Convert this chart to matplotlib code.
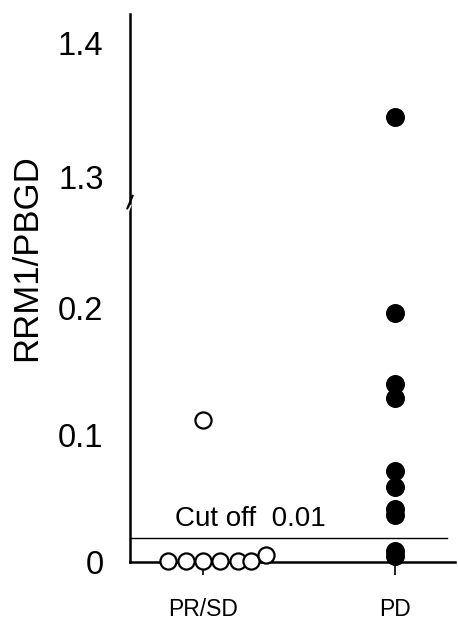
import matplotlib
matplotlib.use("Agg")
import matplotlib.pyplot as plt
import numpy as np

plt.rcParams['font.family'] = ['Liberation Sans', 'DejaVu Sans']

# data
groups = ['PR/SD', 'PD']
prsd_values = [0.112, 0.001, 0.001, 0.001, 0.001, 0.001, 0.001, 0.0055]
pd_values = [1.345, 0.196, 0.140, 0.129, 0.072, 0.059, 0.042, 0.037, 0.009, 0.005]
cutoff = 0.019
cutoff_label = 'Cut off  0.01'
lower_ticks = [0, 0.1, 0.2]
lower_ticklabels = ['0', '0.1', '0.2']
upper_ticks = [1.3, 1.4]
upper_ticklabels = ['1.3', '1.4']

# horizontal spread of the PR/SD circles (layout only)
prsd_jitter = [0.0, -0.18, -0.09, 0.0, 0.09, 0.18, 0.25, 0.33]

W, H = 458, 621
fig = plt.figure(figsize=(W / 100, H / 100), dpi=100)

left = 130 / W
width = 325 / W
y_zero, y_break, y_top = 562, 203, 14
lo_px = 1270.0   # pixels per unit, lower panel
hi_px = 1340.0   # pixels per unit, upper panel
y_13 = 177

ax_lo = fig.add_axes([left, (H - y_zero) / H, width, (y_zero - y_break) / H])
ax_hi = fig.add_axes([left, (H - y_break) / H, width, (y_break - y_top) / H])

lo_max = (y_zero - y_break) / lo_px
hi_min = 1.3 - (y_break - y_13) / hi_px
hi_max = 1.3 + (y_13 - y_top) / hi_px
ax_lo.set_ylim(0, lo_max)
ax_hi.set_ylim(hi_min, hi_max)

xlim = (1 - 73 / 192, 2 + 60 / 192)
for ax in (ax_lo, ax_hi):
    ax.set_xlim(*xlim)
    for s in ['top', 'right']:
        ax.spines[s].set_visible(False)
    ax.spines['left'].set_linewidth(1.8)
    ax.tick_params(axis='y', length=0, pad=19, labelsize=23.5)
    ax.patch.set_alpha(0)

ax_hi.spines['bottom'].set_visible(False)
ax_hi.set_xticks([])
ax_lo.spines['bottom'].set_linewidth(1.8)

ax_lo.set_yticks(lower_ticks)
ax_lo.set_yticklabels(lower_ticklabels)
ax_hi.set_yticks(upper_ticks)
ax_hi.set_yticklabels(upper_ticklabels)

ax_lo.set_xticks([1, 2])
ax_lo.set_xticklabels(groups)
ax_lo.tick_params(axis='x', length=9, width=1.2, direction='out', pad=17, labelsize=16.5)

# PR/SD open circles
x_prsd = [1 + j for j in prsd_jitter]
ax_lo.scatter(x_prsd, prsd_values, s=135, facecolors='white', edgecolors='black',
              linewidths=1.6, zorder=5, clip_on=False)

# PD filled circles, split between both panels
pd_arr = np.array(pd_values)
low_pd = pd_arr[pd_arr < lo_max]
high_pd = pd_arr[pd_arr >= hi_min]
ax_lo.scatter(np.full(len(low_pd), 2.0), low_pd, s=160, color='black', zorder=5, clip_on=False)
ax_hi.scatter(np.full(len(high_pd), 2.0), high_pd, s=160, color='black', zorder=5, clip_on=False)

# cut-off line
ax_lo.plot([xlim[0], 2.27], [cutoff, cutoff], color='black', linewidth=1.0)
ax_lo.text(1 - 28 / 192, cutoff + 0.005, cutoff_label, fontsize=20, ha='left', va='bottom')

# axis break mark
bx = 0.0
ax_lo.plot([bx - 0.008, bx + 0.008], [0.985, 1.02], transform=ax_lo.transAxes,
           color='black', linewidth=1.5, clip_on=False)
ax_lo.plot([bx - 0.008, bx + 0.008], [0.97, 1.005], transform=ax_lo.transAxes,
           color='white', linewidth=1.0, clip_on=False, zorder=6)

fig.text(27 / W, 1 - 258 / H, 'RRM1/PBGD', rotation=90, fontsize=25,
         ha='center', va='center')

fig.savefig('out.png', dpi=100)
